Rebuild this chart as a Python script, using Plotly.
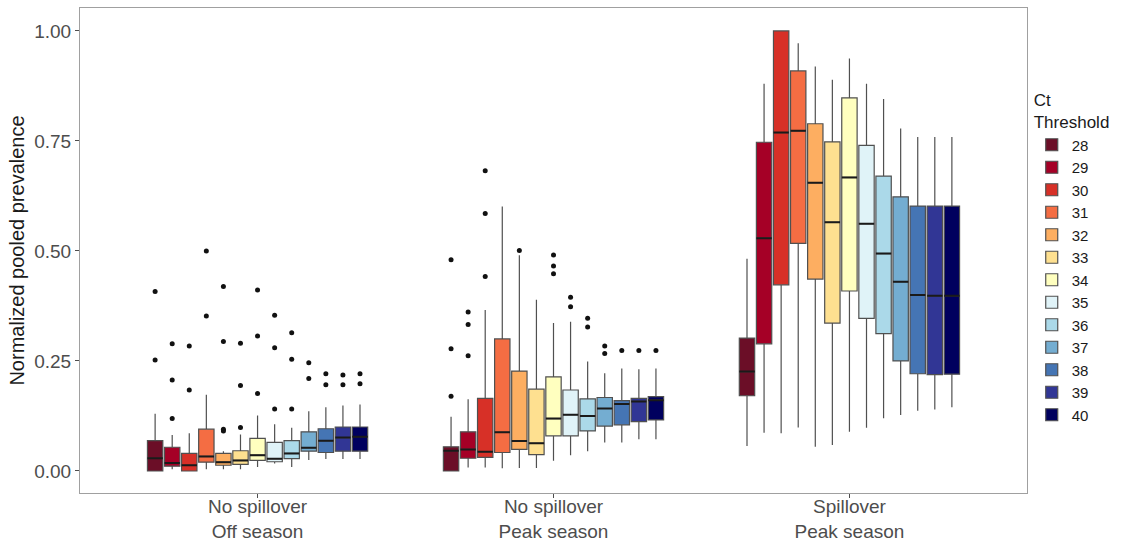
import plotly.graph_objects as go

thresholds = ["28", "29", "30", "31", "32", "33", "34", "35", "36", "37", "38", "39", "40"]
colors = ["#6B0E27", "#A50026", "#D73027", "#F46D43", "#FDAE61", "#FEE090", "#FFFFBF",
          "#E0F3F8", "#ABD9E9", "#74ADD1", "#4575B4", "#313695", "#00005E"]
groups = ["No spillover<br>Off season", "No spillover<br>Peak season", "Spillover<br>Peak season"]

# Group 1: No spillover, Off season
low_off = [0.000, 0.004, 0.000, 0.004, 0.004, 0.004, 0.009, 0.017, 0.009, 0.025, 0.027, 0.027, 0.027]
q1_off = [0.000, 0.011, 0.000, 0.020, 0.013, 0.015, 0.024, 0.021, 0.028, 0.045, 0.042, 0.045, 0.045]
med_off = [0.029, 0.018, 0.013, 0.033, 0.020, 0.024, 0.036, 0.028, 0.040, 0.053, 0.069, 0.076, 0.078]
q3_off = [0.069, 0.054, 0.040, 0.095, 0.040, 0.046, 0.074, 0.065, 0.069, 0.089, 0.096, 0.100, 0.100]
up_off = [0.130, 0.082, 0.086, 0.173, 0.045, 0.083, 0.126, 0.106, 0.098, 0.136, 0.145, 0.149, 0.151]
out_off = [[0.408, 0.252], [0.289, 0.207, 0.119], [0.284, 0.184], [0.500, 0.352],
           [0.095, 0.091, 0.294, 0.419], [0.099, 0.194, 0.290], [0.176, 0.307, 0.411],
           [0.141, 0.280, 0.354], [0.141, 0.254, 0.314], [0.210, 0.246], [0.196, 0.221],
           [0.196, 0.218], [0.198, 0.221]]

# Group 2: No spillover, Peak season
low_pk = [0.000, 0.008, 0.008, 0.006, 0.007, 0.007, 0.023, 0.036, 0.045, 0.065, 0.065, 0.072, 0.072]
q1_pk = [0.000, 0.029, 0.031, 0.042, 0.049, 0.037, 0.080, 0.080, 0.091, 0.102, 0.105, 0.112, 0.116]
med_pk = [0.046, 0.049, 0.044, 0.088, 0.068, 0.063, 0.119, 0.128, 0.125, 0.142, 0.152, 0.158, 0.161]
q3_pk = [0.055, 0.089, 0.165, 0.300, 0.227, 0.186, 0.214, 0.184, 0.164, 0.167, 0.160, 0.165, 0.169]
up_pk = [0.123, 0.163, 0.366, 0.601, 0.490, 0.389, 0.336, 0.339, 0.249, 0.222, 0.233, 0.231, 0.233]
out_pk = [[0.170, 0.278, 0.480], [0.262, 0.333, 0.361], [0.442, 0.585, 0.682], [],
          [0.501], [], [0.448, 0.466, 0.491], [0.373, 0.395], [0.327, 0.347],
          [0.267, 0.284], [0.274], [0.274], [0.274]]

# Group 3: Spillover, Peak season
low_sp = [0.057, 0.087, 0.086, 0.099, 0.055, 0.059, 0.089, 0.098, 0.120, 0.127, 0.137, 0.140, 0.145]
q1_sp = [0.171, 0.289, 0.423, 0.517, 0.436, 0.336, 0.409, 0.347, 0.312, 0.250, 0.221, 0.219, 0.220]
med_sp = [0.226, 0.529, 0.769, 0.773, 0.655, 0.565, 0.667, 0.562, 0.494, 0.430, 0.400, 0.398, 0.398]
q3_sp = [0.302, 0.747, 1.000, 0.909, 0.789, 0.748, 0.848, 0.740, 0.670, 0.623, 0.602, 0.602, 0.602]
up_sp = [0.482, 0.880, 1.000, 0.972, 0.919, 0.889, 0.937, 0.880, 0.845, 0.778, 0.759, 0.759, 0.759]
out_sp = [[] for _ in thresholds]

stats = [
    (low_off, q1_off, med_off, q3_off, up_off, out_off),
    (low_pk, q1_pk, med_pk, q3_pk, up_pk, out_pk),
    (low_sp, q1_sp, med_sp, q3_sp, up_sp, out_sp),
]

n = len(thresholds)
slot = 0.75 / n
bw = slot * 0.9

fig = go.Figure()
for k, (t, c) in enumerate(zip(thresholds, colors)):
    xs = [g + 1 + (k - (n - 1) / 2) * slot for g in range(len(groups))]
    fig.add_trace(go.Box(
        x=xs,
        lowerfence=[s[0][k] for s in stats],
        q1=[s[1][k] for s in stats],
        median=[s[2][k] for s in stats],
        q3=[s[3][k] for s in stats],
        upperfence=[s[4][k] for s in stats],
        width=bw, whiskerwidth=0, boxpoints=False,
        fillcolor=c, line=dict(color="#505050", width=1.2),
        name=t, legendgroup=t, showlegend=True, hoverinfo="skip",
    ))
    # median lines in black
    fig.add_trace(go.Box(
        x=xs,
        lowerfence=[s[2][k] for s in stats],
        q1=[s[2][k] for s in stats],
        median=[s[2][k] for s in stats],
        q3=[s[2][k] for s in stats],
        upperfence=[s[2][k] for s in stats],
        width=bw, whiskerwidth=0, boxpoints=False,
        fillcolor="rgba(0,0,0,0)", line=dict(color="#1a1a1a", width=2),
        name=t, legendgroup=t, showlegend=False, hoverinfo="skip",
    ))
    ox, oy = [], []
    for g, s in enumerate(stats):
        for v in s[5][k]:
            ox.append(xs[g])
            oy.append(v)
    if ox:
        fig.add_trace(go.Scatter(
            x=ox, y=oy, mode="markers",
            marker=dict(color="#111111", size=5),
            showlegend=False, hoverinfo="skip",
        ))

fig.update_layout(
    width=1134, height=544,
    margin=dict(l=80, r=107, t=8, b=51, autoexpand=False),
    paper_bgcolor="white", plot_bgcolor="white",
    boxmode="overlay",
    font=dict(family="Liberation Sans, Arial, sans-serif", color="#4d4d4d"),
    legend=dict(
        title=dict(text="Ct<br>Threshold", font=dict(size=17, color="#1a1a1a")),
        font=dict(size=15, color="#1a1a1a"),
        x=1.005, xanchor="left", y=0.485, yanchor="middle",
        tracegroupgap=0, itemwidth=30,
    ),
    showlegend=True,
)
fig.update_xaxes(
    range=[0.4, 3.6], tickvals=[1, 2, 3], ticktext=groups,
    tickfont=dict(size=19, color="#4d4d4d"),
    ticks="outside", ticklen=4, tickcolor="#4d4d4d",
    ticklabelstandoff=-8,
    showline=True, linecolor="#a0a0a0", linewidth=1, mirror=True,
    showgrid=False, zeroline=False,
)
fig.update_yaxes(
    range=[-0.05, 1.052], tickvals=[0, 0.25, 0.5, 0.75, 1.0],
    ticktext=["0.00", "0.25", "0.50", "0.75", "1.00"],
    tickfont=dict(size=19, color="#4d4d4d"),
    ticks="outside", ticklen=4, tickcolor="#4d4d4d",
    title=dict(text="Normalized pooled prevalence", font=dict(size=20, color="#1a1a1a"), standoff=4),
    showline=True, linecolor="#a0a0a0", linewidth=1, mirror=True,
    showgrid=False, zeroline=False,
)

fig.write_html("out.html")
